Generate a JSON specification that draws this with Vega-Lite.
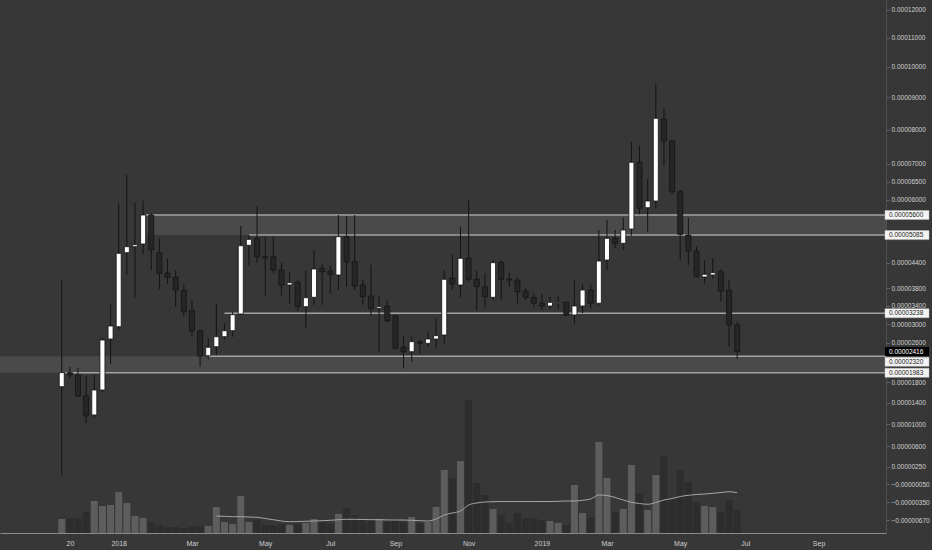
{
  "$schema": "https://vega.github.io/schema/vega-lite/v6.json",
  "width": 886,
  "height": 533,
  "autosize": {"type": "none"},
  "padding": {"left": 0, "top": 0, "right": 46, "bottom": 17},
  "background": "#373737",
  "config": {"view": {"stroke": null, "fill": "#373737"}},
  "datasets": {
    "candles": [
      {"date":"2017-11-13","open":0.000017103,"high":0.000039937,"low":0.000001075,"close":0.00001987,"volume":140},
      {"date":"2017-11-20","open":0.00001987,"high":0.000021015,"low":0.000018814,"close":0.000019412,"volume":150},
      {"date":"2017-11-27","open":0.000019412,"high":0.000020812,"low":0.000015107,"close":0.0000153,"volume":150},
      {"date":"2017-12-04","open":0.0000153,"high":0.000019213,"low":0.000010168,"close":0.000011517,"volume":210},
      {"date":"2017-12-11","open":0.000011704,"high":0.000019412,"low":0.000011145,"close":0.000016456,"volume":320},
      {"date":"2017-12-18","open":0.000016456,"high":0.000027014,"low":0.000016071,"close":0.000026588,"volume":270},
      {"date":"2017-12-25","open":0.000026801,"high":0.000034439,"low":0.000021621,"close":0.000029587,"volume":280},
      {"date":"2018-01-01","open":0.000029435,"high":0.000059103,"low":0.00002872,"close":0.000046331,"volume":410},
      {"date":"2018-01-08","open":0.000046478,"high":0.000066824,"low":0.000041117,"close":0.000047956,"volume":300},
      {"date":"2018-01-15","open":0.000047956,"high":0.000059262,"low":0.000035952,"close":0.000048452,"volume":170},
      {"date":"2018-01-22","open":0.000048626,"high":0.000059793,"low":0.000046161,"close":0.000056017,"volume":150},
      {"date":"2018-01-29","open":0.000056017,"high":0.000056539,"low":0.000042297,"close":0.000047137,"volume":110},
      {"date":"2018-02-05","open":0.000046478,"high":0.000050048,"low":0.000037779,"close":0.000041518,"volume":80},
      {"date":"2018-02-12","open":0.000041518,"high":0.000045111,"low":0.000039009,"close":0.000040574,"volume":60},
      {"date":"2018-02-19","open":0.000040574,"high":0.000042297,"low":0.000033833,"close":0.000037617,"volume":60},
      {"date":"2018-02-26","open":0.000037457,"high":0.000039009,"low":0.000031616,"close":0.000032718,"volume":50},
      {"date":"2018-03-05","open":0.000032939,"high":0.000035336,"low":0.000027292,"close":0.000028571,"volume":60},
      {"date":"2018-03-12","open":0.000028571,"high":0.00002872,"low":0.000021075,"close":0.000023254,"volume":70},
      {"date":"2018-03-19","open":0.000023316,"high":0.00002695,"low":0.000022574,"close":0.000025057,"volume":70},
      {"date":"2018-03-26","open":0.000025183,"high":0.000034439,"low":0.000023461,"close":0.000027292,"volume":260,"ma":170},
      {"date":"2018-04-02","open":0.000027292,"high":0.000030173,"low":0.000026737,"close":0.000028571,"volume":110,"ma":167},
      {"date":"2018-04-09","open":0.000028571,"high":0.000032718,"low":0.000027292,"close":0.000032057,"volume":90,"ma":163},
      {"date":"2018-04-16","open":0.000032211,"high":0.000053171,"low":0.000031991,"close":0.000048204,"volume":370,"ma":163},
      {"date":"2018-04-23","open":0.000048304,"high":0.000050882,"low":0.000043257,"close":0.000049796,"volume":110,"ma":160},
      {"date":"2018-04-30","open":0.000050048,"high":0.000058385,"low":0.000044048,"close":0.000045502,"volume":130,"ma":157},
      {"date":"2018-05-07","open":0.000045477,"high":0.000050452,"low":0.000036089,"close":0.000045233,"volume":80,"ma":145},
      {"date":"2018-05-14","open":0.000045502,"high":0.000050503,"low":0.000041518,"close":0.000042297,"volume":80,"ma":133},
      {"date":"2018-05-21","open":0.000042297,"high":0.000044048,"low":0.000036248,"close":0.000038777,"volume":90,"ma":120},
      {"date":"2018-05-28","open":0.000038777,"high":0.000041896,"low":0.000034596,"close":0.000039311,"volume":80,"ma":113},
      {"date":"2018-06-04","open":0.000039403,"high":0.000040102,"low":0.000032939,"close":0.000033833,"volume":90,"ma":115},
      {"date":"2018-06-11","open":0.000033833,"high":0.000042132,"low":0.000029089,"close":0.000035861,"volume":100,"ma":117},
      {"date":"2018-06-18","open":0.000035952,"high":0.000047137,"low":0.000034215,"close":0.000042537,"volume":140,"ma":120},
      {"date":"2018-06-25","open":0.000042705,"high":0.000043736,"low":0.000034215,"close":0.000041896,"volume":110,"ma":123},
      {"date":"2018-07-02","open":0.000042061,"high":0.000043257,"low":0.000036705,"close":0.000041282,"volume":90,"ma":127},
      {"date":"2018-07-09","open":0.000041117,"high":0.000056017,"low":0.000037617,"close":0.000050452,"volume":190,"ma":133},
      {"date":"2018-07-16","open":0.000050452,"high":0.000055756,"low":0.000038383,"close":0.000044288,"volume":250,"ma":137},
      {"date":"2018-07-23","open":0.000044288,"high":0.000056017,"low":0.000037617,"close":0.000038545,"volume":180,"ma":137},
      {"date":"2018-07-30","open":0.000038777,"high":0.000039937,"low":0.000034215,"close":0.000036089,"volume":130,"ma":135},
      {"date":"2018-08-06","open":0.000036248,"high":0.000043497,"low":0.000031991,"close":0.000033474,"volume":130,"ma":133},
      {"date":"2018-08-13","open":0.000033474,"high":0.000036248,"low":0.000024141,"close":0.000033833,"volume":140,"ma":133},
      {"date":"2018-08-20","open":0.00003399,"high":0.000035336,"low":0.000030303,"close":0.000030736,"volume":110,"ma":131},
      {"date":"2018-08-27","open":0.00003177,"high":0.000031991,"low":0.000024638,"close":0.000024848,"volume":130,"ma":130},
      {"date":"2018-09-03","open":0.000025057,"high":0.000027292,"low":0.000020752,"close":0.000024141,"volume":110,"ma":130},
      {"date":"2018-09-10","open":0.000024141,"high":0.000027292,"low":0.000022086,"close":0.000026232,"volume":160,"ma":127},
      {"date":"2018-09-17","open":0.000026232,"high":0.000026588,"low":0.000023667,"close":0.000025896,"volume":90,"ma":123},
      {"date":"2018-09-24","open":0.000025896,"high":0.000028358,"low":0.000025183,"close":0.000026801,"volume":110,"ma":120},
      {"date":"2018-10-01","open":0.000026801,"high":0.000031263,"low":0.000024848,"close":0.000027505,"volume":260,"ma":140},
      {"date":"2018-10-08","open":0.000027654,"high":0.000042297,"low":0.000025749,"close":0.000040102,"volume":630,"ma":180},
      {"date":"2018-10-15","open":0.000040338,"high":0.000045917,"low":0.000037617,"close":0.000039009,"volume":550,"ma":200},
      {"date":"2018-10-22","open":0.000038777,"high":0.000052991,"low":0.000035952,"close":0.000045111,"volume":720,"ma":220},
      {"date":"2018-10-29","open":0.000045111,"high":0.000059979,"low":0.000039543,"close":0.000040102,"volume":1330,"ma":280},
      {"date":"2018-11-05","open":0.000040102,"high":0.000042132,"low":0.000032939,"close":0.000038383,"volume":500,"ma":300},
      {"date":"2018-11-12","open":0.000038383,"high":0.000041518,"low":0.000033474,"close":0.000036089,"volume":380,"ma":310},
      {"date":"2018-11-19","open":0.000035952,"high":0.000044696,"low":0.000035336,"close":0.000044048,"volume":240,"ma":313},
      {"date":"2018-11-26","open":0.000044144,"high":0.000044528,"low":0.000035336,"close":0.000040102,"volume":180,"ma":315},
      {"date":"2018-12-03","open":0.000040173,"high":0.00004166,"low":0.000038383,"close":0.000039937,"volume":100,"ma":315},
      {"date":"2018-12-10","open":0.000039937,"high":0.000040574,"low":0.000034596,"close":0.000037229,"volume":200,"ma":315},
      {"date":"2018-12-17","open":0.000037389,"high":0.000038011,"low":0.000035336,"close":0.000035952,"volume":150,"ma":315},
      {"date":"2018-12-24","open":0.000035952,"high":0.000036864,"low":0.000033699,"close":0.000034596,"volume":150,"ma":315},
      {"date":"2018-12-31","open":0.000034596,"high":0.000036705,"low":0.000033093,"close":0.00003399,"volume":130,"ma":315},
      {"date":"2019-01-07","open":0.00003399,"high":0.000036089,"low":0.00003325,"close":0.00003482,"volume":120,"ma":315},
      {"date":"2019-01-14","open":0.000034618,"high":0.000036248,"low":0.00003325,"close":0.00003482,"volume":100,"ma":317},
      {"date":"2019-01-21","open":0.00003482,"high":0.000034955,"low":0.00003177,"close":0.000031991,"volume":80,"ma":320},
      {"date":"2019-01-28","open":0.000031991,"high":0.000039937,"low":0.000030173,"close":0.00003399,"volume":480,"ma":320},
      {"date":"2019-02-04","open":0.00003399,"high":0.000039009,"low":0.000032365,"close":0.000037617,"volume":200,"ma":327},
      {"date":"2019-02-11","open":0.000037617,"high":0.000038939,"low":0.000033474,"close":0.000034596,"volume":150,"ma":340},
      {"date":"2019-02-18","open":0.000034596,"high":0.000052144,"low":0.000034215,"close":0.000044456,"volume":910,"ma":380},
      {"date":"2019-02-25","open":0.000044696,"high":0.000054711,"low":0.000042297,"close":0.000050048,"volume":550,"ma":375},
      {"date":"2019-03-04","open":0.000050048,"high":0.000052144,"low":0.000047559,"close":0.0000488,"volume":210,"ma":355},
      {"date":"2019-03-11","open":0.0000488,"high":0.000055312,"low":0.000047137,"close":0.000052144,"volume":240,"ma":330},
      {"date":"2019-03-18","open":0.000052401,"high":0.000076392,"low":0.000050705,"close":0.000070409,"volume":680,"ma":307},
      {"date":"2019-03-25","open":0.000070409,"high":0.000075217,"low":0.0000562,"close":0.000057775,"volume":400,"ma":295},
      {"date":"2019-04-01","open":0.000057934,"high":0.000065707,"low":0.000051715,"close":0.000059713,"volume":230,"ma":287},
      {"date":"2019-04-08","open":0.000059713,"high":0.000094212,"low":0.000057775,"close":0.000083448,"volume":580,"ma":305},
      {"date":"2019-04-15","open":0.000083231,"high":0.000086549,"low":0.000069443,"close":0.000076598,"volume":770,"ma":330},
      {"date":"2019-04-22","open":0.000076598,"high":0.000076892,"low":0.000061519,"close":0.000062221,"volume":350,"ma":345},
      {"date":"2019-04-29","open":0.000062221,"high":0.00006268,"low":0.000044696,"close":0.000051058,"volume":630,"ma":365},
      {"date":"2019-05-06","open":0.000050882,"high":0.000055312,"low":0.000043497,"close":0.000046893,"volume":510,"ma":377},
      {"date":"2019-05-13","open":0.000046893,"high":0.000047956,"low":0.00004048,"close":0.000040716,"volume":310,"ma":385},
      {"date":"2019-05-20","open":0.000040645,"high":0.000044696,"low":0.000039171,"close":0.000041282,"volume":270,"ma":390},
      {"date":"2019-05-27","open":0.000041117,"high":0.000045111,"low":0.000040338,"close":0.00004166,"volume":260,"ma":397},
      {"date":"2019-06-03","open":0.000041896,"high":0.000042537,"low":0.000034955,"close":0.000037389,"volume":210,"ma":405},
      {"date":"2019-06-10","open":0.000037617,"high":0.000039937,"low":0.000025183,"close":0.000029804,"volume":330,"ma":413},
      {"date":"2019-06-17","open":0.000029804,"high":0.000030519,"low":0.000022636,"close":0.00002416,"volume":230,"ma":403}
    ],
    "levels": [
      {"date":"2018-01-24","price":0.000056},
      {"date":"2018-04-23","price":0.00005085},
      {"date":"2018-04-02","price":0.00003238},
      {"date":"2018-03-19","price":0.0000232},
      {"date":"2017-11-16","price":0.00001983}
    ],
    "bands": [
      {"date":"2018-01-25","low":0.00005085,"high":0.000056},
      {"date":"2017-09-01","low":0.00001983,"high":0.0000232}
    ],
    "tags": [
      {"price":0.000056,"kind":"level"},
      {"price":0.00005085,"kind":"level"},
      {"price":0.00003238,"kind":"level"},
      {"price":0.00002416,"kind":"last"},
      {"price":0.0000232,"kind":"level"},
      {"price":0.00001983,"kind":"level"}
    ]
  },
  "data": {"name": "candles"},
  "encoding": {
    "x": {
      "field": "date",
      "type": "temporal",
      "scale": {
        "type": "utc",
        "domain": [
          {"year": 2017, "month": 9, "date": 25, "hours": 4, "minutes": 40, "utc": true},
          {"year": 2019, "month": 10, "date": 18, "hours": 16, "minutes": 48, "utc": true}
        ]
      },
      "axis": {
        "title": null,
        "grid": false,
        "ticks": false,
        "domainColor": "#8a8a8a",
        "labelColor": "#cfcfcf",
        "labelFont": "Liberation Sans",
        "labelFontSize": 7,
        "labelPadding": 6,
        "labelOverlap": false,
        "values": [
          {"year": 2017, "month": 11, "date": 20, "utc": true},
          {"year": 2018, "month": 1, "date": 1, "utc": true},
          {"year": 2018, "month": 3, "date": 5, "utc": true},
          {"year": 2018, "month": 5, "date": 7, "utc": true},
          {"year": 2018, "month": 7, "date": 2, "utc": true},
          {"year": 2018, "month": 8, "date": 27, "utc": true},
          {"year": 2018, "month": 10, "date": 29, "utc": true},
          {"year": 2018, "month": 12, "date": 31, "utc": true},
          {"year": 2019, "month": 2, "date": 25, "utc": true},
          {"year": 2019, "month": 4, "date": 29, "utc": true},
          {"year": 2019, "month": 6, "date": 24, "utc": true},
          {"year": 2019, "month": 8, "date": 26, "utc": true}
        ],
        "labelExpr": "(utcmonth(datum.value)==10 && utcdate(datum.value)==20) ? '20' : (utcmonth(time(datum.value)+604800000)==0 ? utcFormat(time(datum.value)+604800000,'%Y') : utcFormat(time(datum.value)+604800000,'%b'))"
      }
    }
  },
  "layer": [
    {
      "layer": [
        {
          "mark": {"type": "bar", "width": 7},
          "encoding": {
            "y": {"field": "volume", "type": "quantitative", "scale": {"domain": [0, 5330], "nice": false, "zero": true}, "axis": null},
            "color": {"condition": {"test": "datum.close >= datum.open", "value": "#5d5d5d"}, "value": "#2d2d2d"}
          }
        },
        {
          "mark": {"type": "line", "color": "#a6a6a6", "strokeWidth": 1, "interpolate": "monotone"},
          "encoding": {
            "y": {"field": "ma", "type": "quantitative", "scale": {"domain": [0, 5330], "nice": false, "zero": true}, "axis": null}
          }
        }
      ]
    },
    {
      "layer": [
        {
          "data": {"name": "bands"},
          "mark": {"type": "rect", "color": "#4a4a4a", "clip": true},
          "encoding": {
            "x2": {"datum": {"year": 2019, "month": 12, "date": 31, "utc": true}},
            "y": {
              "field": "low", "type": "quantitative",
              "scale": {"type": "symlog", "constant": 0.0000985, "domain": [-0.000008976, 0.00012372], "nice": false, "zero": false},
              "axis": {"orient": "right", "title": null, "grid": false, "format": ".8f", "values": [0.00012, 0.00011, 0.0001, 0.00009, 0.00008, 0.00007, 0.000065, 0.00006, 0.000044, 0.000038, 0.000034, 0.00003, 0.000026, 0.000018, 0.000014, 0.00001, 0.000006, 0.0000025, -0.0000005, -0.0000035, -0.0000067], "labelOverlap": false, "labelColor": "#cfcfcf", "labelFont": "Liberation Sans", "labelFontSize": 6.5, "labelPadding": 2, "tickSize": 3, "tickColor": "#6a6a6a", "domainColor": "#4f4f4f"}
            },
            "y2": {"field": "high"}
          }
        },
        {
          "data": {"name": "levels"},
          "mark": {"type": "rule", "color": "#a3a3a3", "strokeWidth": 1.5, "clip": true},
          "encoding": {
            "x2": {"datum": {"year": 2019, "month": 12, "date": 31, "utc": true}},
            "y": {"field": "price", "type": "quantitative", "scale": {"type": "symlog", "constant": 0.0000985, "domain": [-0.000008976, 0.00012372], "nice": false, "zero": false},
              "axis": {"orient": "right", "title": null, "grid": false, "format": ".8f", "values": [0.00012, 0.00011, 0.0001, 0.00009, 0.00008, 0.00007, 0.000065, 0.00006, 0.000044, 0.000038, 0.000034, 0.00003, 0.000026, 0.000018, 0.000014, 0.00001, 0.000006, 0.0000025, -0.0000005, -0.0000035, -0.0000067], "labelOverlap": false, "labelColor": "#cfcfcf", "labelFont": "Liberation Sans", "labelFontSize": 6.5, "labelPadding": 2, "tickSize": 3, "tickColor": "#6a6a6a", "domainColor": "#4f4f4f"}}
          }
        },
        {
          "mark": {"type": "rule", "color": "#141414", "strokeWidth": 1},
          "encoding": {
            "y": {"field": "low", "type": "quantitative", "scale": {"type": "symlog", "constant": 0.0000985, "domain": [-0.000008976, 0.00012372], "nice": false, "zero": false},
              "axis": {"orient": "right", "title": null, "grid": false, "format": ".8f", "values": [0.00012, 0.00011, 0.0001, 0.00009, 0.00008, 0.00007, 0.000065, 0.00006, 0.000044, 0.000038, 0.000034, 0.00003, 0.000026, 0.000018, 0.000014, 0.00001, 0.000006, 0.0000025, -0.0000005, -0.0000035, -0.0000067], "labelOverlap": false, "labelColor": "#cfcfcf", "labelFont": "Liberation Sans", "labelFontSize": 6.5, "labelPadding": 2, "tickSize": 3, "tickColor": "#6a6a6a", "domainColor": "#4f4f4f"}},
            "y2": {"field": "high"}
          }
        },
        {
          "mark": {"type": "bar", "width": 5, "stroke": "#141414", "strokeWidth": 0.8},
          "encoding": {
            "y": {"field": "open", "type": "quantitative", "scale": {"type": "symlog", "constant": 0.0000985, "domain": [-0.000008976, 0.00012372], "nice": false, "zero": false},
              "axis": {"orient": "right", "title": null, "grid": false, "format": ".8f", "values": [0.00012, 0.00011, 0.0001, 0.00009, 0.00008, 0.00007, 0.000065, 0.00006, 0.000044, 0.000038, 0.000034, 0.00003, 0.000026, 0.000018, 0.000014, 0.00001, 0.000006, 0.0000025, -0.0000005, -0.0000035, -0.0000067], "labelOverlap": false, "labelColor": "#cfcfcf", "labelFont": "Liberation Sans", "labelFontSize": 6.5, "labelPadding": 2, "tickSize": 3, "tickColor": "#6a6a6a", "domainColor": "#4f4f4f"}},
            "y2": {"field": "close"},
            "color": {"condition": {"test": "datum.close >= datum.open", "value": "#ffffff"}, "value": "#262626"}
          }
        },
        {
          "data": {"name": "tags"},
          "transform": [{"filter": "datum.kind === 'level' && datum.price !== 0.0000232"}],
          "layer": [
            {
              "mark": {"type": "rect", "xOffset": -1, "x2Offset": 43, "yOffset": -4.5, "y2Offset": 4.5, "fill": "#f4f4f4", "stroke": "#c0c0c0", "strokeWidth": 0.5},
              "encoding": {"x2": {"value": "width"}, "y2": {"field": "price"}}
            },
            {
              "mark": {"type": "text", "align": "left", "baseline": "middle", "dx": 3, "font": "Liberation Sans", "fontSize": 6.5, "color": "#1a1a1a"},
              "encoding": {"text": {"field": "price", "type": "quantitative", "format": ".8f"}}
            }
          ],
          "encoding": {
            "x": {"value": "width"},
            "y": {"field": "price", "type": "quantitative", "scale": {"type": "symlog", "constant": 0.0000985, "domain": [-0.000008976, 0.00012372], "nice": false, "zero": false},
              "axis": {"orient": "right", "title": null, "grid": false, "format": ".8f", "values": [0.00012, 0.00011, 0.0001, 0.00009, 0.00008, 0.00007, 0.000065, 0.00006, 0.000044, 0.000038, 0.000034, 0.00003, 0.000026, 0.000018, 0.000014, 0.00001, 0.000006, 0.0000025, -0.0000005, -0.0000035, -0.0000067], "labelOverlap": false, "labelColor": "#cfcfcf", "labelFont": "Liberation Sans", "labelFontSize": 6.5, "labelPadding": 2, "tickSize": 3, "tickColor": "#6a6a6a", "domainColor": "#4f4f4f"}}
          }
        },
        {
          "data": {"name": "tags"},
          "transform": [{"filter": "datum.price === 0.0000232"}],
          "layer": [
            {
              "mark": {"type": "rect", "xOffset": -1, "x2Offset": 43, "yOffset": 1, "y2Offset": 10, "fill": "#f4f4f4", "stroke": "#c0c0c0", "strokeWidth": 0.5},
              "encoding": {"x2": {"value": "width"}, "y2": {"field": "price"}}
            },
            {
              "mark": {"type": "text", "align": "left", "baseline": "middle", "dx": 3, "dy": 5.5, "font": "Liberation Sans", "fontSize": 6.5, "color": "#1a1a1a"},
              "encoding": {"text": {"field": "price", "type": "quantitative", "format": ".8f"}}
            }
          ],
          "encoding": {
            "x": {"value": "width"},
            "y": {"field": "price", "type": "quantitative", "scale": {"type": "symlog", "constant": 0.0000985, "domain": [-0.000008976, 0.00012372], "nice": false, "zero": false},
              "axis": {"orient": "right", "title": null, "grid": false, "format": ".8f", "values": [0.00012, 0.00011, 0.0001, 0.00009, 0.00008, 0.00007, 0.000065, 0.00006, 0.000044, 0.000038, 0.000034, 0.00003, 0.000026, 0.000018, 0.000014, 0.00001, 0.000006, 0.0000025, -0.0000005, -0.0000035, -0.0000067], "labelOverlap": false, "labelColor": "#cfcfcf", "labelFont": "Liberation Sans", "labelFontSize": 6.5, "labelPadding": 2, "tickSize": 3, "tickColor": "#6a6a6a", "domainColor": "#4f4f4f"}}
          }
        },
        {
          "data": {"name": "tags"},
          "transform": [{"filter": "datum.kind === 'last'"}],
          "layer": [
            {
              "mark": {"type": "rect", "xOffset": -1, "x2Offset": 43, "yOffset": -4.5, "y2Offset": 4.5, "fill": "#000000"},
              "encoding": {"x2": {"value": "width"}, "y2": {"field": "price"}}
            },
            {
              "mark": {"type": "text", "align": "left", "baseline": "middle", "dx": 3, "font": "Liberation Sans", "fontSize": 6.5, "color": "#ffffff"},
              "encoding": {"text": {"field": "price", "type": "quantitative", "format": ".8f"}}
            }
          ],
          "encoding": {
            "x": {"value": "width"},
            "y": {"field": "price", "type": "quantitative", "scale": {"type": "symlog", "constant": 0.0000985, "domain": [-0.000008976, 0.00012372], "nice": false, "zero": false},
              "axis": {"orient": "right", "title": null, "grid": false, "format": ".8f", "values": [0.00012, 0.00011, 0.0001, 0.00009, 0.00008, 0.00007, 0.000065, 0.00006, 0.000044, 0.000038, 0.000034, 0.00003, 0.000026, 0.000018, 0.000014, 0.00001, 0.000006, 0.0000025, -0.0000005, -0.0000035, -0.0000067], "labelOverlap": false, "labelColor": "#cfcfcf", "labelFont": "Liberation Sans", "labelFontSize": 6.5, "labelPadding": 2, "tickSize": 3, "tickColor": "#6a6a6a", "domainColor": "#4f4f4f"}}
          }
        }
      ]
    }
  ],
  "resolve": {"scale": {"y": "independent"}}
}
